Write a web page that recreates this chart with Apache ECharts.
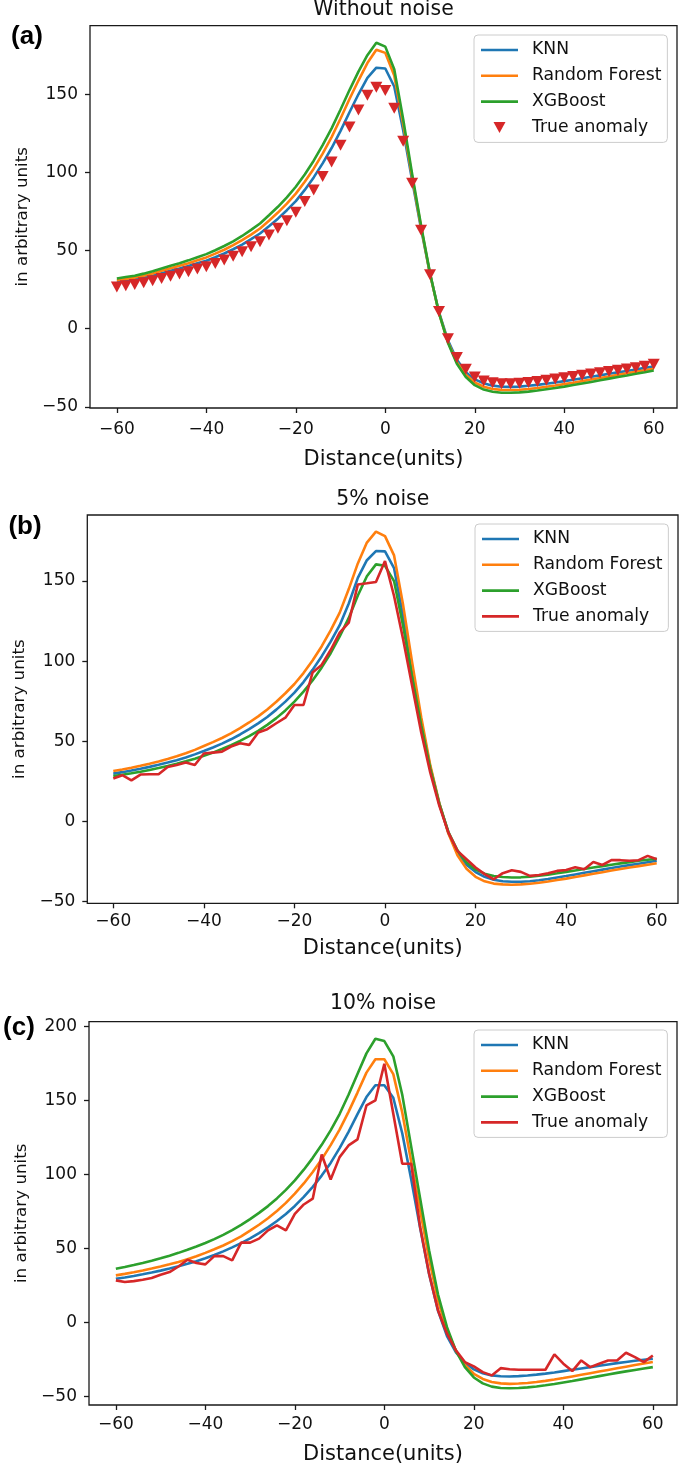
<!DOCTYPE html>
<html>
<head>
<meta charset="utf-8">
<script src="https://cdn.jsdelivr.net/npm/echarts@6/dist/echarts.min.js"></script>
<style>
html,body{margin:0;padding:0;background:#fff;}
#chart{width:685px;height:1467px;}
</style>
</head>
<body>
<div id="chart"></div>
<script>
// ---------------- data ----------------
const DIST = [-60,-58,-56,-54,-52,-50,-48,-46,-44,-42,-40,-38,-36,-34,-32,-30,-28,-26,-24,-22,-20,-18,-16,-14,-12,-10,-8,-6,-4,-2,0,2,4,6,8,10,12,14,16,18,20,22,24,26,28,30,32,34,36,38,40,42,44,46,48,50,52,54,56,58,60];

const PANEL_TITLES = ['Without noise', '5% noise', '10% noise'];
const PANEL_TAGS = ['(a)', '(b)', '(c)'];
const SERIES_NAMES = ['KNN', 'Random Forest', 'XGBoost', 'True anomaly'];
const X_TICKS = [-60, -40, -20, 0, 20, 40, 60];
const Y_TICKS_A = [-50, 0, 50, 100, 150];
const Y_TICKS_B = [-50, 0, 50, 100, 150];
const Y_TICKS_C = [-50, 0, 50, 100, 150, 200];

// (a) Without noise
const KNN_A = [29.8,30.5,31.4,32.6,33.9,35.5,37.1,38.5,40.1,41.9,43.5,45.7,48.1,50.8,53.8,57.3,60.9,65.6,70.4,75.8,81.6,88.8,96.8,105.8,115.6,126.6,138.5,150,160.5,167,
  166.5,
  155,127,95,64,35,10.5,-7.5,-20,-28,-32.5,-35,-36.5,-37.2,-37.3,-37.1,-36.6,-36,-35.3,-34.5,-33.6,-32.7,-31.8,-30.8,-29.9,-28.9,-28,-27.1,-26.1,-25.1,-24.2];
const RF_A = [31,31.8,32.7,33.9,35.3,37,38.7,40.2,41.9,43.8,45.6,48,50.5,53.4,56.6,60.2,64.1,69.1,74.3,80,86.4,94,102.4,112,122.6,134.5,147,158.8,170,178.5,
  176.5,
  162,131,97,65,35,10,-8.5,-21.5,-29.5,-34.5,-37.2,-38.6,-39.2,-39.3,-39.1,-38.6,-38,-37.2,-36.4,-35.5,-34.6,-33.6,-32.6,-31.6,-30.6,-29.6,-28.6,-27.6,-26.6,-25.7];
const XGB_A = [32.1,33,33.9,35.2,36.7,38.5,40.3,41.9,43.7,45.7,47.7,50.2,52.9,55.9,59.3,63.2,67.3,72.6,78,84,90.8,98.7,107.5,117.4,128.2,140.3,152.7,164.5,175,183,
  180.5,
  166,134,99,66,35.5,10,-9,-22.5,-31,-36.2,-39,-40.4,-41,-41,-40.8,-40.3,-39.6,-38.8,-38,-37.1,-36.1,-35.1,-34.1,-33,-32,-31,-30,-28.9,-27.9,-26.8];
const TRUE_A = [26.7,27.4,28.2,29.3,30.6,32.1,33.6,34.9,36.4,38.1,39.6,41.7,43.9,46.4,49.2,52.4,55.6,59.9,64.2,69.1,74.5,81.3,88.8,97.4,106.6,117.3,129.1,140,149.4,154.5,
  152.5,
  141,120,93,63,34.5,11,-6.5,-18.5,-26,-31,-33.5,-34.7,-35.2,-35.2,-34.9,-34.4,-33.8,-33.1,-32.3,-31.5,-30.7,-29.9,-29.1,-28.3,-27.5,-26.7,-25.9,-25.1,-24.0,-22.8];

// (b) 5% noise
const KNN_B = [29.9,30.8,31.8,32.9,34.1,35.4,36.8,38.3,40,41.9,44,46.2,48.6,51.3,54.3,57.6,61.2,65.2,69.8,74.8,80.4,87,94.6,103,112.2,122.5,136,152,163,168.7,
  168.5,
  158,128,94,62,34,11,-7,-19.5,-27,-31.5,-34.5,-36.3,-37.2,-37.6,-37.6,-37.2,-36.6,-35.8,-34.9,-34,-33,-32,-31,-30,-29,-28.1,-27.2,-26.3,-25.4,-24.5];
const RF_B = [31.5,32.5,33.6,34.8,36.1,37.5,39,40.7,42.6,44.7,47.1,49.5,52.1,55,58.3,61.8,65.6,69.9,74.7,80,85.8,92.6,100.4,109.2,119.2,130.3,145,161,174,180.8,
  178,
  166,135,99,65,35,11.5,-7.5,-21,-29.5,-34.5,-37.3,-38.7,-39.2,-39.4,-39.2,-38.8,-38.2,-37.4,-36.5,-35.6,-34.6,-33.6,-32.6,-31.6,-30.6,-29.6,-28.7,-27.8,-26.9,-26];
const XGB_B = [28.4,29.2,30.1,31.1,32.2,33.4,34.7,36.1,37.6,39.2,41,43,45.2,47.6,50.3,53.3,56.6,60.3,64.5,69.3,74.8,81,88,96,105,115.5,127,141,153,160.4,
  159.5,
  150,122,90,60,33,11,-6.5,-18,-25.5,-30,-32.5,-34,-34.6,-34.9,-34.8,-34.4,-33.8,-33.1,-32.3,-31.4,-30.5,-29.6,-28.7,-27.8,-26.9,-26.1,-25.3,-24.5,-23.8,-23.2];
const TRUE_B = [26.8,28.9,25.7,29.3,29.5,29.5,34.0,35.3,36.8,35.3,42.4,43.0,43.6,46.8,48.8,47.8,55.5,57.6,61.3,64.8,72.7,72.7,92.9,97.7,107,117.8,124,147.9,148.6,149.4,
  162.5,
  140.7,113.7,84.6,55.5,30.5,9.8,-6.9,-18.3,-23.5,-28.7,-32.8,-36,-32.2,-30.4,-31.4,-33.9,-33.3,-32.2,-30.8,-30.2,-28.5,-29.7,-25.2,-27.1,-24.1,-24.1,-24.5,-24.1,-21.4,-23.5];

// (c) 10% noise
const KNN_C = [29.7,30.6,31.6,32.7,33.9,35.2,36.6,38.1,39.8,41.6,43.6,45.8,48.2,50.9,53.8,57,60.5,64.4,68.7,73.5,78.9,85,91.8,99.4,108,118,129,141,152.5,160.5,
  160.5,
  152,128,97,64,33,8,-9,-20,-27,-31.5,-34.2,-35.6,-36.2,-36.3,-36.1,-35.7,-35.1,-34.4,-33.6,-32.7,-31.8,-30.9,-30,-29.1,-28.2,-27.3,-26.5,-25.7,-25,-24.3];
const RF_C = [32,33,34.1,35.3,36.6,38,39.5,41.1,42.9,44.9,47.2,49.6,52.2,55.1,58.4,62.2,66.2,70.6,75.5,81,87.2,94.1,101.8,110.4,120,130.5,142.5,155.5,169,178,
  178,
  168,142,109,76,43,15,-5,-19,-28.5,-34.5,-38,-40,-41,-41.3,-41.1,-40.7,-40.1,-39.3,-38.4,-37.4,-36.3,-35.2,-34.1,-33,-31.9,-30.8,-29.7,-28.6,-27.6,-26.6];
const XGB_C = [36.5,37.7,39,40.4,41.9,43.5,45.3,47.2,49.3,51.5,53.9,56.5,59.4,62.6,66.1,70,74.2,78.8,84,89.8,96.2,103.4,111.4,120.2,130,141,154,168,182,191.9,
  190.3,
  180,154,119,84,49,19,-3,-19,-30,-37,-41,-43.2,-44.1,-44.3,-44.1,-43.7,-43.1,-42.3,-41.4,-40.4,-39.4,-38.3,-37.2,-36.1,-35,-33.9,-32.9,-31.9,-30.9,-30];
const TRUE_C = [28.6,27.5,28.1,29.0,30.2,32.4,34.2,38.0,42.5,40.3,39.4,45.0,45.0,42.1,54.1,54.1,56.8,62.4,65.8,62.4,73.6,79.9,83.8,113.7,96.8,111.9,119.8,123.9,146.8,150.2,
  175,
  141.2,107.4,107.4,64.6,33.1,8.3,-7.4,-18.7,-26.6,-29.5,-33.4,-35.6,-30.7,-31.4,-31.8,-31.8,-31.8,-31.8,-21.4,-27.7,-32.7,-25.5,-30,-27.7,-25.5,-25.5,-20.3,-23.2,-26.6,-22.1];

// ---------------- layout / style ----------------
const COLORS = ['#1f77b4', '#ff7f0e', '#2ca02c', '#d62728'];
const FONT = '"DejaVu Sans", "Noto Sans", sans-serif';
const PANELS = [
  { key: 'a', grid: { left: 90, top: 25.7, width: 587, height: 382.3 }, xr: [-66, 65.2], yr: [-50.8, 193.9], yt: Y_TICKS_A,
    data: [KNN_A, RF_A, XGB_A, TRUE_A], markers: true, title: [383.5, 10], tag: [27, 37], legend: [474, 35], labelMargin: 13, nameGap: 41 },
  { key: 'b', grid: { left: 87.3, top: 515, width: 590.7, height: 388.3 }, xr: [-65.74, 64.7], yr: [-51, 191.2], yt: Y_TICKS_B,
    data: [KNN_B, RF_B, XGB_B, TRUE_B], markers: false, title: [382.7, 500], tag: [25, 527], legend: [475, 524], labelMargin: 10, nameGap: 35 },
  { key: 'c', grid: { left: 89, top: 1021.7, width: 588, height: 383.3 }, xr: [-66, 65.4], yr: [-55.6, 203.4], yt: Y_TICKS_C,
    data: [KNN_C, RF_C, XGB_C, TRUE_C], markers: false, title: [383, 1004], tag: [19, 1028], legend: [474, 1030], labelMargin: 11, nameGap: 39 }
];

PANELS.forEach(p => p.data.forEach((arr, i) => {
  if (arr.length !== DIST.length) throw new Error('length mismatch panel ' + p.key + ' series ' + i + ': ' + arr.length);
}));

const minus = v => String(v).replace('-', '\u2212');
const LINE_ICON = 'path://M0,0 L37,0 L37,2.6 L0,2.6 Z';
const TRI_ICON = 'path://M0,0 L12,0 L6,11 Z';
const AX = '#1a1a1a';

const grids = [], xAxes = [], yAxes = [], series = [], legends = [], graphics = [];

PANELS.forEach((p, pi) => {
  grids.push(Object.assign({ show: true, borderColor: AX, borderWidth: 1.3, backgroundColor: 'transparent', containLabel: false }, p.grid));
  const tick = { show: true, inside: false, length: 5, lineStyle: { color: AX, width: 1.3 } };
  xAxes.push({
    type: 'value', gridIndex: pi, min: p.xr[0], max: p.xr[1], position: 'bottom',
    axisLine: { show: false, onZero: false },
    splitLine: { show: false },
    name: 'Distance(units)', nameLocation: 'middle', nameGap: p.nameGap,
    nameTextStyle: { fontFamily: FONT, fontSize: 21, color: '#111' },
    axisTick: Object.assign({}, tick, { customValues: X_TICKS }),
    axisLabel: { customValues: X_TICKS, formatter: minus, margin: p.labelMargin, fontFamily: FONT, fontSize: 17, color: '#111' }
  });
  yAxes.push({
    type: 'value', gridIndex: pi, min: p.yr[0], max: p.yr[1], position: 'left',
    axisLine: { show: false, onZero: false },
    splitLine: { show: false },
    name: 'in arbitrary units', nameLocation: 'middle', nameGap: 59,
    nameTextStyle: { fontFamily: FONT, fontSize: 16.7, color: '#111' },
    axisTick: Object.assign({}, tick, { customValues: p.yt }),
    axisLabel: { customValues: p.yt, formatter: minus, margin: 12, fontFamily: FONT, fontSize: 17, color: '#111' }
  });

  const legendData = [];
  SERIES_NAMES.forEach((nm, si) => {
    const full = p.key + ':' + nm;
    const pts = DIST.map((x, k) => [x, p.data[si][k]]);
    if (si === 3 && p.markers) {
      series.push({
        type: 'scatter', name: full, xAxisIndex: pi, yAxisIndex: pi, data: pts,
        symbol: 'triangle', symbolRotate: 180, symbolSize: [12, 11],
        itemStyle: { color: COLORS[si], opacity: 1 }, z: 10, silent: true
      });
      legendData.push({ name: full, icon: TRI_ICON });
    } else {
      series.push({
        type: 'line', name: full, xAxisIndex: pi, yAxisIndex: pi, data: pts,
        symbol: 'none', showSymbol: false,
        lineStyle: { color: COLORS[si], width: 2.6 }, itemStyle: { color: COLORS[si] },
        z: 2 + si, silent: true
      });
      legendData.push({ name: full, icon: LINE_ICON });
    }
  });

  legends.push({
    orient: 'vertical', left: p.legend[0], top: p.legend[1],
    data: legendData, selectedMode: false,
    itemWidth: 37, itemHeight: 11, itemGap: 7.8,
    padding: [6, 6, 6, 7],
    backgroundColor: 'rgba(255,255,255,0.8)', borderColor: '#cccccc', borderWidth: 1, borderRadius: 4,
    formatter: n => '{s|}{t|' + n.split(':')[1] + '}',
    textStyle: {
      fontFamily: FONT, fontSize: 17.2, color: '#111', lineHeight: 18,
      rich: { s: { width: 9, lineHeight: 18 }, t: { fontFamily: FONT, fontSize: 17.2, color: '#111', lineHeight: 18 } }
    }
  });

  graphics.push({
    type: 'text', x: p.title[0], y: p.title[1], silent: true,
    style: { text: PANEL_TITLES[pi], font: '20.4px ' + FONT, fill: '#111', textAlign: 'center', textVerticalAlign: 'middle', align: 'center', verticalAlign: 'middle' }
  });
  graphics.push({
    type: 'text', x: p.tag[0], y: p.tag[1], silent: true,
    style: { text: PANEL_TAGS[pi], font: 'bold 26px "Liberation Sans", Arial, sans-serif', fill: '#000', textAlign: 'center', textVerticalAlign: 'middle', align: 'center', verticalAlign: 'middle' }
  });
});

const chart = echarts.init(document.getElementById('chart'), null, { renderer: 'canvas' });
chart.setOption({
  animation: false,
  backgroundColor: '#ffffff',
  grid: grids, xAxis: xAxes, yAxis: yAxes, series: series, legend: legends,
  graphic: { elements: graphics }
});
</script>
</body>
</html>
